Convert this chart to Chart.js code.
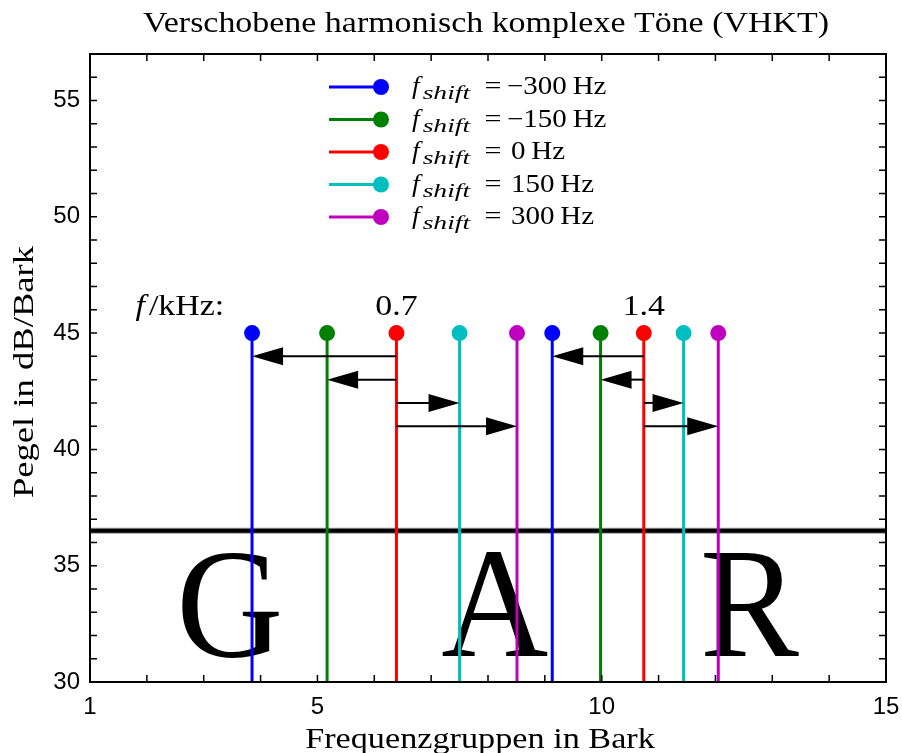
<!DOCTYPE html>
<html>
<head>
<meta charset="utf-8">
<script src="https://cdn.jsdelivr.net/npm/chart.js@4.4.1/dist/chart.umd.min.js"></script>
<style>
    html, body { margin: 0; padding: 0; background: #fff; }
    #wrap { width: 902px; height: 753px; }
</style>
</head>
<body>
<div id="wrap"><canvas id="myChart" width="902" height="753"></canvas></div>
<script>
// frequency shifts of the complex tones and where their stems sit (Bark)
const shifts = [-300, -150, 0, 150, 300];
const barkAt07 = [3.85, 5.17, 6.39, 7.50, 8.51];
const barkAt14 = [9.13, 9.98, 10.74, 11.44, 12.05];
const groupLabels = ['0.7', '1.4'];
const peakLevel = 45;
const floorLevel = 30;
// arrow heights for each shifted tone (same order as shifts, null for the unshifted one)
const arrowLevels = [44, 43, null, 42, 41];
const barLevel = 36.5;
const letters = ['G', 'A', 'R'];
const letterBark = [3.46, 8.12, 12.6];
const letterLevel = 31.1;
const xTickLabels = [1, 5, 10, 15];
const yTickLabels = [30, 35, 40, 45, 50, 55];

const colors = ['#0000ff', '#008000', '#ff0000', '#00bfbf', '#bf00bf'];
const serif = '"Liberation Serif", "DejaVu Serif", serif';
const sans = '"Liberation Sans", Arial, sans-serif';

function stemData(i) {
    return [
        {x: barkAt07[i], y: floorLevel},
        {x: barkAt07[i], y: peakLevel},
        {x: barkAt14[i], y: null},
        {x: barkAt14[i], y: floorLevel},
        {x: barkAt14[i], y: peakLevel}
    ];
}

const datasets = shifts.map((s, i) => ({
    label: `f_shift = ${s} Hz`,
    data: stemData(i),
    borderColor: colors[i],
    backgroundColor: colors[i],
    borderWidth: 3,
    pointRadius: (ctx) => (ctx.raw && ctx.raw.y === peakLevel ? 8 : 0),
    pointHoverRadius: 0,
    pointBorderWidth: 0,
    spanGaps: false,
    tension: 0
}));

// times is narrower than the computer modern of the original, so stretch it a bit
// returns the drawn width
function stretchText(ctx, text, x, y, font, align, sx) {
    sx = sx || 1.17;
    ctx.save();
    ctx.font = font;
    ctx.textAlign = 'left';
    const w = ctx.measureText(text).width * sx;
    let x0 = x;
    if (align === 'center') x0 = x - w / 2;
    if (align === 'right') x0 = x - w;
    ctx.translate(x0, y);
    ctx.scale(sx, 1);
    ctx.fillText(text, 0, 0);
    ctx.restore();
    return w;
}

function arrow(ctx, x0, x1, y) {
    const dir = x1 > x0 ? 1 : -1;
    const headLen = 31, headHalf = 9;
    ctx.beginPath();
    ctx.moveTo(x0, y);
    ctx.lineTo(x1 - dir * headLen * 0.6, y);
    ctx.lineWidth = 2;
    ctx.strokeStyle = '#000';
    ctx.stroke();
    ctx.beginPath();
    ctx.moveTo(x1, y);
    ctx.lineTo(x1 - dir * headLen, y - headHalf);
    ctx.lineTo(x1 - dir * headLen, y + headHalf);
    ctx.closePath();
    ctx.fillStyle = '#000';
    ctx.fill();
}

const decorations = {
    id: 'decorations',
    beforeDatasetsDraw(chart) {
        const {ctx, chartArea: a, scales: {x, y}} = chart;
        ctx.save();
        // big letters behind the stems
        ctx.fillStyle = '#000';
        ctx.textBaseline = 'alphabetic';
        letters.forEach((l, i) => {
            stretchText(ctx, l, x.getPixelForValue(letterBark[i]), y.getPixelForValue(letterLevel),
                `156px ${serif}`, 'center', 0.95);
        });
        // thick horizontal bar
        const yb = y.getPixelForValue(barLevel);
        ctx.beginPath();
        ctx.moveTo(a.left, yb);
        ctx.lineTo(a.right, yb);
        ctx.strokeStyle = '#999';
        ctx.lineWidth = 6;
        ctx.stroke();
        ctx.strokeStyle = '#000';
        ctx.lineWidth = 4;
        ctx.stroke();
        ctx.restore();
    },
    afterDatasetsDraw(chart) {
        const {ctx, chartArea: a, scales: {x, y}} = chart;
        ctx.save();
        // arrows from the unshifted tone to each shifted one
        const ref = shifts.indexOf(0);
        [barkAt07, barkAt14].forEach((group) => {
            arrowLevels.forEach((lvl, i) => {
                if (lvl === null) return;
                arrow(ctx, x.getPixelForValue(group[ref]), x.getPixelForValue(group[i]), y.getPixelForValue(lvl));
            });
        });
        // frequency labels
        const yl = y.getPixelForValue(peakLevel) - 18;
        ctx.fillStyle = '#000';
        ctx.textBaseline = 'alphabetic';
        stretchText(ctx, groupLabels[0], x.getPixelForValue(barkAt07[ref]), yl, `29px ${serif}`, 'center');
        stretchText(ctx, groupLabels[1], x.getPixelForValue(barkAt14[ref]), yl, `29px ${serif}`, 'center');
        let xl = x.getPixelForValue(1.8);
        xl += stretchText(ctx, 'f', xl, yl, `italic 29px ${serif}`, 'left') + 4;
        stretchText(ctx, '/kHz:', xl, yl, `29px ${serif}`, 'left');

        // frame
        ctx.strokeStyle = '#000';
        ctx.lineWidth = 2;
        ctx.strokeRect(a.left, a.top, a.right - a.left, a.bottom - a.top);
        // inward ticks on all sides
        ctx.lineWidth = 1.5;
        ctx.beginPath();
        for (let v = 2; v < 15; v++) {
            const px = x.getPixelForValue(v);
            ctx.moveTo(px, a.bottom); ctx.lineTo(px, a.bottom - 7);
            ctx.moveTo(px, a.top); ctx.lineTo(px, a.top + 7);
        }
        for (let v = 31; v < 57; v++) {
            const py = y.getPixelForValue(v);
            ctx.moveTo(a.left, py); ctx.lineTo(a.left + 7, py);
            ctx.moveTo(a.right, py); ctx.lineTo(a.right - 7, py);
        }
        ctx.stroke();

        // legend
        shifts.forEach((s, i) => {
            const ry = 87 + i * 32.5;
            ctx.beginPath();
            ctx.moveTo(329, ry);
            ctx.lineTo(381, ry);
            ctx.strokeStyle = colors[i];
            ctx.lineWidth = 3;
            ctx.stroke();
            ctx.beginPath();
            ctx.arc(381, ry, 8, 0, Math.PI * 2);
            ctx.fillStyle = colors[i];
            ctx.fill();
            ctx.fillStyle = '#000';
            let tx = 412;
            tx += stretchText(ctx, 'f', tx, ry + 7, `italic 25px ${serif}`, 'left', 1.1) + 3;
            stretchText(ctx, 'shift', tx, ry + 12, `italic 19px ${serif}`, 'left', 1.45);
            stretchText(ctx, '=', 493, ry + 7, `25px ${serif}`, 'center', 1.2);
            const val = s < 0 ? '\u2212' + Math.abs(s) : String(s);
            stretchText(ctx, val + '\u2009Hz', s < 0 ? 507 : 511, ry + 7, `25px ${serif}`, 'left', 1.16);
        });

        // titles
        stretchText(ctx, 'Verschobene harmonisch komplexe Töne (VHKT)', (a.left + a.right) / 2 - 2, 32,
            `29px ${serif}`, 'center', 1.17);
        stretchText(ctx, 'Frequenzgruppen in Bark', 480, 748, `29px ${serif}`, 'center', 1.18);
        ctx.translate(33, 372);
        ctx.rotate(-Math.PI / 2);
        stretchText(ctx, 'Pegel in dB/Bark', 0, 0, `30px ${serif}`, 'center', 1.22);
        ctx.restore();
    }
};

const config = {
    type: 'line',
    data: {datasets: datasets},
    options: {
        responsive: false,
        animation: false,
        layout: {padding: {top: 54, right: 16, left: 0, bottom: 0}},
        plugins: {
            legend: {display: false},
            tooltip: {enabled: false}
        },
        scales: {
            x: {
                type: 'linear',
                min: 1,
                max: 15,
                grid: {display: false, drawTicks: false},
                border: {display: false},
                afterFit: (scale) => {
                    scale.height = 71;
                    scale.paddingLeft = 0;
                    scale.paddingRight = 0;
                },
                ticks: {
                    stepSize: 1,
                    autoSkip: false,
                    maxRotation: 0,
                    padding: 11,
                    color: '#000',
                    font: {family: sans, size: 24},
                    callback: (v) => (xTickLabels.includes(v) ? String(v) : '')
                }
            },
            y: {
                type: 'linear',
                min: 30,
                max: 57,
                grid: {display: false, drawTicks: false},
                border: {display: false},
                afterFit: (scale) => {
                    scale.width = 90;
                    scale.paddingTop = 0;
                    scale.paddingBottom = 0;
                },
                ticks: {
                    stepSize: 1,
                    autoSkip: false,
                    padding: 10,
                    color: '#000',
                    font: {family: sans, size: 24},
                    callback: (v) => (yTickLabels.includes(v) ? String(v) : '')
                }
            }
        }
    },
    plugins: [decorations]
};

window.onload = function () {
    new Chart(document.getElementById('myChart'), config);
};
</script>
</body>
</html>
